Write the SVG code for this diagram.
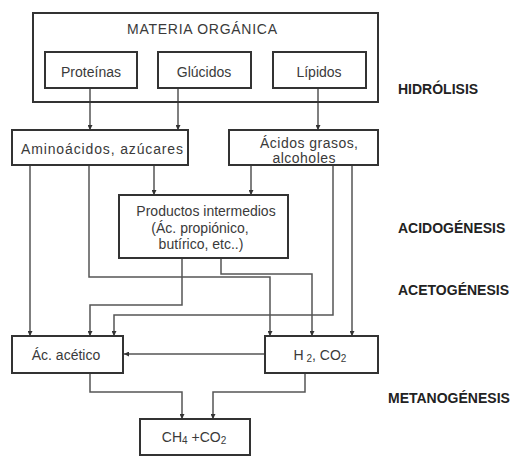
<svg xmlns="http://www.w3.org/2000/svg" width="529" height="456" viewBox="0 0 529 456">
<defs>
<style>
.box{fill:#fff;stroke:#333;stroke-width:2}
.frame{fill:none;stroke:#333;stroke-width:2}
.t{font-family:"Liberation Sans",Arial,sans-serif;font-size:14px;fill:#3a3a3a;text-anchor:middle}
.lbl{font-family:"Liberation Sans",Arial,sans-serif;font-size:14px;font-weight:bold;fill:#222}
.c{fill:none;stroke:#555;stroke-width:1.5}
</style>
<marker id="ah" viewBox="0 0 10 10" refX="10" refY="5" markerWidth="5" markerHeight="5" orient="auto" markerUnits="userSpaceOnUse">
<path d="M0,0 L10,5 L0,10 Z" fill="#333"/>
</marker>
</defs>
<rect width="529" height="456" fill="#fff"/>

<g id="connectors">
<path class="c" marker-end="url(#ah)" d="M90,88 V130"/>
<path class="c" marker-end="url(#ah)" d="M178,88 V130"/>
<path class="c" marker-end="url(#ah)" d="M318,88 V130"/>
<path class="c" marker-end="url(#ah)" d="M30,165 V336"/>
<path class="c" marker-end="url(#ah)" d="M89,165 V277 H270 V336"/>
<path class="c" marker-end="url(#ah)" d="M154,165 V195"/>
<path class="c" marker-end="url(#ah)" d="M251,165 V195"/>
<path class="c" marker-end="url(#ah)" d="M333,165 V315 H114 V336"/>
<path class="c" marker-end="url(#ah)" d="M352,165 V336"/>
<path class="c" marker-end="url(#ah)" d="M182,258 V305 H90 V336"/>
<path class="c" marker-end="url(#ah)" d="M221,258 V274 H312 V336"/>
<path class="c" marker-end="url(#ah)" d="M265,354 H124"/>
<path class="c" marker-end="url(#ah)" d="M90,373 V392 H182 V419"/>
<path class="c" marker-end="url(#ah)" d="M305,373 V392 H213 V419"/>
</g>

<g id="materia-organica">
<rect class="frame" x="33" y="13" width="345" height="89"/>
<text class="t" x="202" y="34" textLength="150">MATERIA ORGÁNICA</text>
</g>
<g id="proteinas">
<rect class="box" x="45" y="52" width="92" height="36"/>
<text class="t" x="91" y="77">Proteínas</text>
</g>
<g id="glucidos">
<rect class="box" x="158" y="52" width="93" height="36"/>
<text class="t" x="204" y="77">Glúcidos</text>
</g>
<g id="lipidos">
<rect class="box" x="273" y="52" width="93" height="36"/>
<text class="t" x="319" y="77">Lípidos</text>
</g>
<g id="aminoacidos">
<rect class="box" x="12" y="130" width="176" height="35"/>
<text class="t" x="102" y="154" textLength="162">Aminoácidos, azúcares</text>
</g>
<g id="acidos-grasos">
<rect class="box" x="229" y="130" width="149" height="35"/>
<text class="t" x="309" y="148" font-size="13" textLength="98">Ácidos grasos,</text>
<text class="t" x="304" y="163" font-size="13" textLength="63">alcoholes</text>
</g>
<g id="productos">
<rect class="box" x="119" y="195" width="169" height="63"/>
<text class="t" x="206" y="216">Productos intermedios</text>
<text class="t" x="200" y="233">(Ác. propiónico,</text>
<text class="t" x="201" y="249">butírico, etc..)</text>
</g>
<g id="ac-acetico">
<rect class="box" x="12" y="336" width="111" height="37"/>
<text class="t" x="66" y="360">Ác. acético</text>
</g>
<g id="h2-co2">
<rect class="box" x="265" y="336" width="113" height="37"/>
<text class="t" x="320" y="360">H<tspan font-size="10" dy="2"> 2</tspan><tspan dy="-2">, CO</tspan><tspan font-size="10" dy="2">2</tspan></text>
</g>
<g id="ch4-co2">
<rect class="box" x="140" y="419" width="110" height="36"/>
<text class="t" x="194" y="442">CH<tspan font-size="10" dy="2">4</tspan><tspan dy="-2"> +CO</tspan><tspan font-size="10" dy="2">2</tspan></text>
</g>

<g id="stage-labels">
<text class="lbl" x="398" y="94">HIDRÓLISIS</text>
<text class="lbl" x="398" y="233">ACIDOGÉNESIS</text>
<text class="lbl" x="398" y="295">ACETOGÉNESIS</text>
<text class="lbl" x="388" y="403">METANOGÉNESIS</text>
</g>
</svg>
